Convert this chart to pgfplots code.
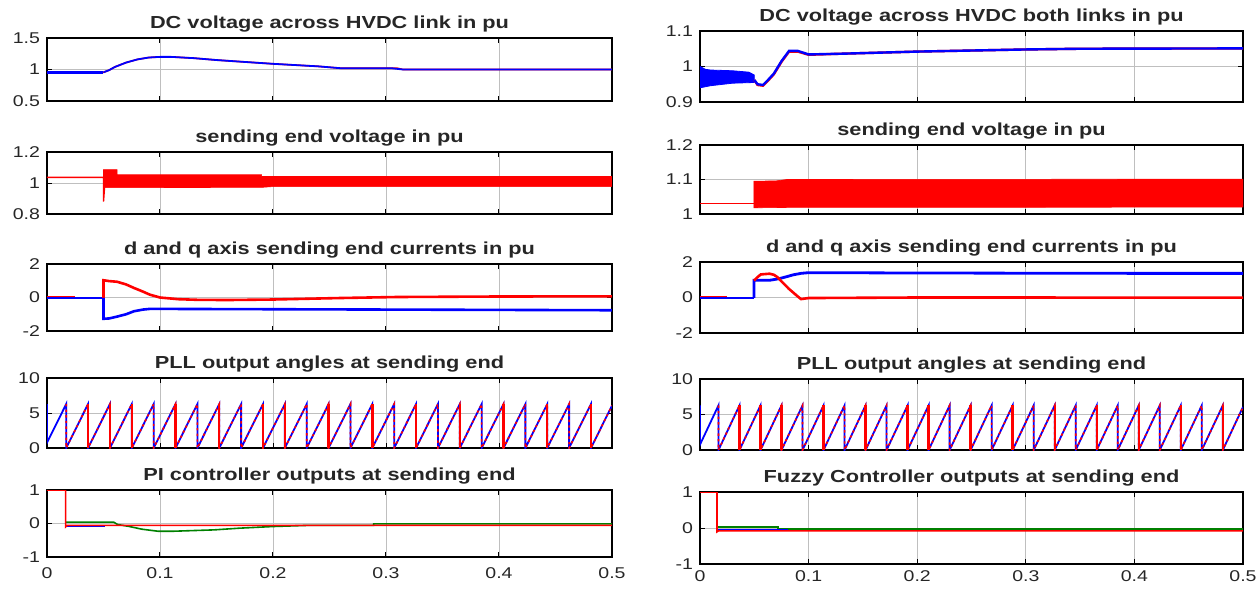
\documentclass[border=0pt]{standalone}
\usepackage{fontspec}
\setmainfont{Liberation Sans}[FakeStretch=1.25]
\usepackage{pgfplots}
\usepackage{pgfplotstable}
\pgfplotsset{compat=1.18}

\definecolor{mblue}{rgb}{0,0,1}
\definecolor{mred}{rgb}{1,0,0}
\definecolor{mgreen}{rgb}{0,0.5,0}

% PLL angle, sawtooth wrap times
\pgfplotstableread{
t y
0 6.28
0 0.76
0.0170 6.28
0.0170 0
0.03635 6.28
0.03635 0
0.0557 6.28
0.0557 0
0.07505 6.28
0.07505 0
0.0944 6.28
0.0944 0
0.11375 6.28
0.11375 0
0.1331 6.28
0.1331 0
0.15245 6.28
0.15245 0
0.1718 6.28
0.1718 0
0.19115 6.28
0.19115 0
0.2105 6.28
0.2105 0
0.22985 6.28
0.22985 0
0.2492 6.28
0.2492 0
0.26855 6.28
0.26855 0
0.2879 6.28
0.2879 0
0.30725 6.28
0.30725 0
0.3266 6.28
0.3266 0
0.34595 6.28
0.34595 0
0.3653 6.28
0.3653 0
0.38465 6.28
0.38465 0
0.404 6.28
0.404 0
0.42335 6.28
0.42335 0
0.4427 6.28
0.4427 0
0.46205 6.28
0.46205 0
0.4814 6.28
0.4814 0
0.5 6.07
}\sawtooth

\pgfplotstableread{
t y
0.03635 6.28
0.0557 6.28
0.07505 6.28
0.11375 6.28
0.15245 6.28
0.19115 6.28
0.2105 6.28
0.2492 6.28
0.2879 6.28
0.3266 6.28
0.3653 6.28
0.404 6.28
0.4427 6.28
0.4814 6.28
}\sawred

\pgfplotsset{
  panel/.style={
    scale only axis, anchor=north west,
    xmin=0, xmax=0.5,
    xtick={0,0.1,0.2,0.3,0.4,0.5}, xticklabels={},
    grid=major, grid style={line width=0.4pt, draw=black!25},
    tick align=inside, major tick length=2.5pt,
    tick style={black, line width=0.5pt},
    axis line style={line width=0.6pt},
    title style={font=\bfseries\fontsize{8.7}{10}\selectfont, text=black!85,
      at={(0.5,1)}, anchor=south, yshift=-6.5pt},
    tick label style={font=\fontsize{7.8}{9}\selectfont, text=black!85},
  },
  leftp/.style={panel, width=282.5pt},
  rightp/.style={panel, width=271.5pt},
  bottomrow/.style={xticklabels={0,0.1,0.2,0.3,0.4,0.5},
    xticklabel style={yshift=#1}},
}

\begin{document}
\begin{tikzpicture}
\useasboundingbox (0,0) rectangle (628pt,295pt);

% ---------------- left column ----------------
\begin{axis}[leftp, at={(23.5pt,276pt)}, height=31.5pt,
  ymin=0.5, ymax=1.5, ytick={0.5,1,1.5}, yticklabels={0.5,1,1.5},
  title={DC voltage across HVDC link in pu}]
  \addplot[mred, line width=0.8pt] coordinates {
    (0,0.955) (0.05,0.955) (0.055,0.99) (0.06,1.04) (0.07,1.11) (0.08,1.16)
    (0.09,1.19) (0.1,1.2) (0.11,1.2) (0.13,1.18) (0.15,1.15) (0.2,1.09)
    (0.24,1.05) (0.26,1.02) (0.31,1.02) (0.315,1.0) (0.5,1.0)};
  \addplot[mblue, line width=1.5pt] coordinates {
    (0,0.955) (0.05,0.955)};
  \addplot[mblue, line width=0.9pt] coordinates {
    (0.05,0.955) (0.055,0.99) (0.06,1.04) (0.07,1.11) (0.08,1.16)
    (0.09,1.19) (0.1,1.2) (0.11,1.2) (0.13,1.18) (0.15,1.15) (0.2,1.09)
    (0.24,1.05) (0.26,1.02) (0.305,1.02) (0.315,1.0) (0.5,1.0)};
\end{axis}

\begin{axis}[leftp, at={(23.5pt,219pt)}, height=31pt,
  ymin=0.8, ymax=1.2, ytick={0.8,1,1.2}, yticklabels={0.8,1,1.2},
  title={sending end voltage in pu}]
  \addplot[mred, line width=0.7pt] coordinates {
    (0,1.036) (0.05,1.036) (0.05,0.88) (0.051,0.98)};
  \addplot[mred, fill=mred, line width=0.3pt] coordinates {
    (0.05,0.97) (0.05,1.086) (0.062,1.086) (0.062,1.053) (0.19,1.053)
    (0.19,1.042) (0.5,1.042) (0.5,0.977) (0.2,0.977) (0.19,0.972)
    (0.062,0.97)} -- cycle;
\end{axis}

\begin{axis}[leftp, at={(23.5pt,163pt)}, height=33.5pt,
  ymin=-2, ymax=2, ytick={-2,0,2}, yticklabels={-2,0,2},
  title={d and q axis sending end currents in pu}]
  \addplot[mred, line width=1.1pt] coordinates {
    (0,0) (0.025,0)};
  \addplot[mblue, line width=0.8pt] coordinates {
    (0,-0.02) (0.05,-0.02)};
  \addplot[mred, line width=1.3pt] coordinates {
    (0.05,-0.02) (0.05,1.03) (0.055,0.98) (0.062,0.94) (0.07,0.78)
    (0.077,0.57) (0.085,0.35) (0.091,0.17) (0.1,0.0) (0.116,-0.1)
    (0.134,-0.14) (0.16,-0.15) (0.2,-0.12) (0.26,-0.03) (0.31,0.03)
    (0.4,0.06) (0.5,0.07)};
  \addplot[mblue, line width=1.3pt] coordinates {
    (0.05,-0.02) (0.05,-1.27) (0.055,-1.25) (0.062,-1.14) (0.07,-1.0)
    (0.077,-0.82) (0.085,-0.72) (0.091,-0.68) (0.1,-0.68) (0.2,-0.7)
    (0.3,-0.72) (0.4,-0.74) (0.5,-0.76)};
\end{axis}

\begin{axis}[leftp, at={(23.5pt,106pt)}, height=35pt,
  ymin=0, ymax=10, ytick={0,5,10}, yticklabels={0,5,10},
  title={PLL output angles at sending end}]
  \addplot[mblue, line width=0.9pt] table[x=t, y=y] {\sawtooth};
  \addplot[mred, line width=0.8pt, dash pattern=on 1.2pt off 1.6pt,
    skip coords between index={0}{2}] table[x=t, y=y] {\sawtooth};
  \addplot[mred, ycomb, line width=1.2pt] table[x=t, y=y] {\sawred};
\end{axis}

\begin{axis}[leftp, bottomrow=-2pt, at={(23.5pt,50pt)}, height=33.5pt,
  ymin=-1, ymax=1, ytick={-1,0,1}, yticklabels={-1,0,1},
  title={PI controller outputs at sending end}]
  \addplot[mblue, line width=0.8pt] coordinates {
    (0.0165,-0.07) (0.051,-0.07) (0.051,-0.055) (0.5,-0.055)};
  \addplot[mgreen, line width=0.8pt] coordinates {
    (0.0165,0.04) (0.059,0.04) (0.0625,-0.03) (0.073,-0.09) (0.084,-0.17)
    (0.098,-0.23) (0.1125,-0.23) (0.148,-0.19) (0.17,-0.14) (0.2,-0.09)
    (0.232,-0.055) (0.289,-0.055) (0.289,-0.01) (0.5,-0.01)};
  \addplot[mred, line width=0.8pt] coordinates {
    (0,1) (0.0165,1) (0.0165,-0.1) (0.018,-0.055) (0.5,-0.055)};
\end{axis}

% ---------------- right column ----------------
\begin{axis}[rightp, at={(350pt,279.5pt)}, height=35.5pt,
  ymin=0.9, ymax=1.1, ytick={0.9,1,1.1}, yticklabels={0.9,1,1.1},
  title={DC voltage across HVDC both links in pu}]
  \addplot[mblue, fill=mblue, line width=0.4pt] coordinates {
    (0,1.0) (0.005,0.992) (0.01,0.99) (0.03,0.988) (0.045,0.984)
    (0.05,0.976) (0.05,0.955) (0.03,0.953) (0.01,0.946) (0,0.94)} -- cycle;
  \addplot[mred, line width=1.2pt] coordinates {
    (0.05,0.962) (0.053,0.948) (0.058,0.946) (0.062,0.958) (0.068,0.978)
    (0.075,1.013) (0.082,1.042) (0.09,1.042) (0.1,1.033) (0.13,1.036)
    (0.2,1.042) (0.3,1.048) (0.35,1.05) (0.5,1.051)};
  \addplot[mblue, line width=1.2pt] coordinates {
    (0.05,0.962) (0.053,0.95) (0.058,0.948) (0.062,0.96) (0.068,0.98)
    (0.075,1.015) (0.082,1.044) (0.09,1.044) (0.1,1.034) (0.13,1.036)
    (0.2,1.042) (0.3,1.048) (0.35,1.05) (0.5,1.051)};
\end{axis}

\begin{axis}[rightp, at={(350pt,222.5pt)}, height=34.5pt,
  ymin=1, ymax=1.2, ytick={1,1.1,1.2}, yticklabels={1,1.1,1.2},
  title={sending end voltage in pu}]
  \addplot[mred, line width=0.7pt] coordinates {
    (0,1.031) (0.05,1.031)};
  \addplot[mred, fill=mred, line width=0.3pt] coordinates {
    (0.0497,1.018) (0.0497,1.095) (0.07,1.096) (0.08,1.1) (0.5,1.101)
    (0.5,1.02) (0.08,1.019)} -- cycle;
\end{axis}

\begin{axis}[rightp, at={(350pt,164pt)}, height=35.5pt,
  ymin=-2, ymax=2, ytick={-2,0,2}, yticklabels={-2,0,2},
  title={d and q axis sending end currents in pu}]
  \addplot[mred, line width=1.1pt] coordinates {
    (0,0) (0.025,0)};
  \addplot[mblue, line width=0.8pt] coordinates {
    (0,-0.02) (0.0497,-0.02)};
  \addplot[mblue, line width=1.4pt] coordinates {
    (0.0497,-0.02) (0.0497,0.97) (0.064,0.97) (0.072,1.05) (0.079,1.16)
    (0.086,1.28) (0.093,1.36) (0.1,1.4) (0.2,1.38) (0.3,1.37) (0.4,1.36)
    (0.5,1.36)};
  \addplot[mred, line width=1.3pt] coordinates {
    (0.0497,0.95) (0.053,1.15) (0.056,1.3) (0.064,1.34) (0.068,1.28)
    (0.071,1.16) (0.076,0.85) (0.082,0.48) (0.09,0.06) (0.093,-0.09)
    (0.1,-0.03) (0.2,0.0) (0.3,0.0) (0.4,-0.01) (0.5,-0.01)};
\end{axis}

\begin{axis}[rightp, at={(350pt,105.5pt)}, height=35.5pt,
  ymin=0, ymax=10, ytick={0,5,10}, yticklabels={0,5,10},
  title={PLL output angles at sending end}]
  \addplot[mblue, line width=0.9pt] table[x=t, y=y] {\sawtooth};
  \addplot[mred, line width=0.8pt, dash pattern=on 1.2pt off 1.6pt,
    skip coords between index={0}{2}] table[x=t, y=y] {\sawtooth};
  \addplot[mred, ycomb, line width=1.2pt] table[x=t, y=y] {\sawred};
\end{axis}

\begin{axis}[rightp, bottomrow=0pt, at={(350pt,49pt)}, height=36pt,
  ymin=-1, ymax=1, ytick={-1,0,1}, yticklabels={-1,0,1},
  title={Fuzzy Controller outputs at sending end}]
  \addplot[mblue, line width=0.8pt] coordinates {
    (0.0156,-0.04) (0.082,-0.04) (0.082,-0.035) (0.5,-0.035)};
  \addplot[mgreen, line width=0.8pt] coordinates {
    (0.0156,0.035) (0.072,0.035) (0.072,-0.01) (0.082,-0.01)
    (0.082,-0.027) (0.5,-0.027)};
  \addplot[mred, line width=0.8pt] coordinates {
    (0,1) (0.0156,1) (0.0156,-0.107) (0.017,-0.08) (0.5,-0.08)};
\end{axis}
\end{tikzpicture}
\end{document}
